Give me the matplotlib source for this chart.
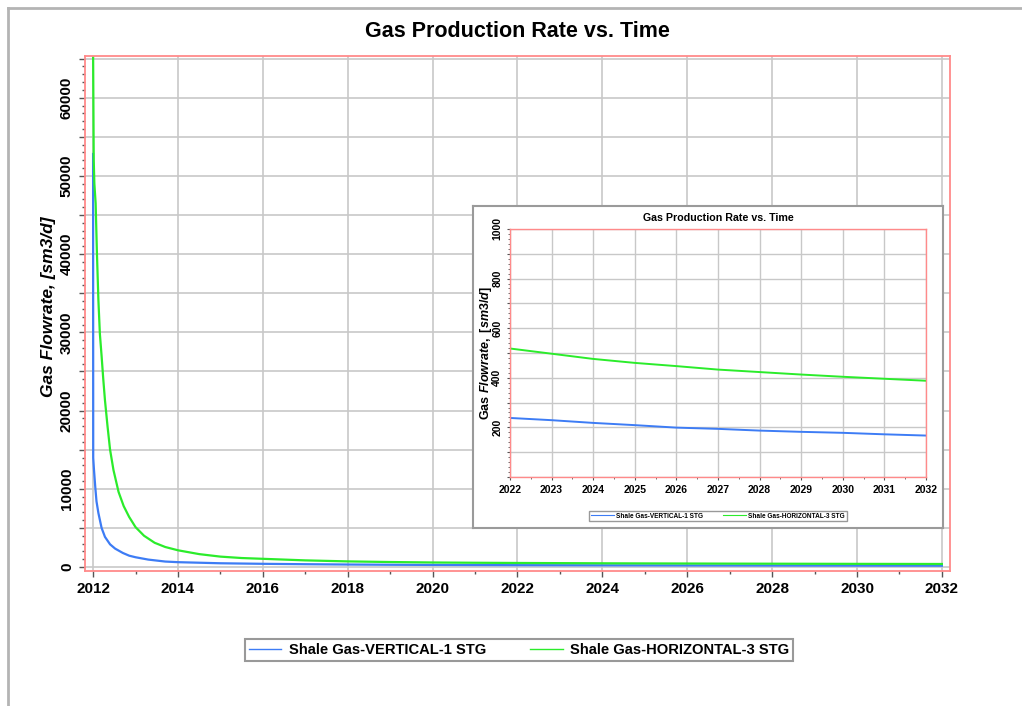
import numpy as np
import matplotlib
matplotlib.use("Agg")
import matplotlib.pyplot as plt
from matplotlib.ticker import MultipleLocator, FuncFormatter
from matplotlib.lines import Line2D

plt.rcParams['font.family'] = ['Liberation Sans', 'DejaVu Sans']
plt.rcParams['mathtext.fontset'] = 'custom'
plt.rcParams['mathtext.it'] = 'Liberation Sans:italic:bold'
plt.rcParams['mathtext.rm'] = 'Liberation Sans:bold'

# Datos (años decimales, sm3/d)
years_vert = [2012.0, 2012.003, 2012.02, 2012.05, 2012.08, 2012.125, 2012.2, 2012.28,
              2012.4, 2012.52, 2012.7, 2012.85, 2013.0, 2013.3, 2013.7, 2014.0,
              2015.0, 2016.0, 2017.0, 2018.0, 2019.0, 2020.0, 2021.0, 2022.0,
              2023.0, 2024.0, 2025.0, 2026.0, 2027.0, 2028.0, 2029.0, 2030.0,
              2031.0, 2032.0]
rate_vert = [52800, 13950, 12500, 10300, 8400, 6900, 5000, 3850,
             2900, 2350, 1800, 1450, 1250, 950, 700, 620,
             480, 410, 360, 320, 290, 268, 252, 238,
             229, 218, 209, 199, 194, 187, 182, 178,
             172, 167]

years_horiz = [2012.0, 2012.015, 2012.03, 2012.06, 2012.09, 2012.125, 2012.16, 2012.2,
               2012.24, 2012.28, 2012.34, 2012.4, 2012.48, 2012.6, 2012.72, 2012.85,
               2013.0, 2013.2, 2013.45, 2013.7, 2014.0, 2014.5, 2015.0, 2015.5,
               2016.0, 2017.0, 2018.0, 2019.0, 2020.0, 2021.0, 2022.0, 2023.0,
               2024.0, 2025.0, 2026.0, 2027.0, 2028.0, 2029.0, 2030.0, 2031.0,
               2032.0]
rate_horiz = [66000, 52000, 49000, 46500, 40200, 34100, 29800, 27000,
              24000, 21300, 18000, 15000, 12400, 9600, 7800, 6400,
              5100, 4000, 3100, 2560, 2140, 1650, 1330, 1150,
              1050, 850, 720, 640, 580, 545, 518, 497,
              476, 460, 447, 433, 423, 413, 404, 396,
              388]

labels = ['Shale Gas-VERTICAL-1 STG', 'Shale Gas-HORIZONTAL-3 STG']
c_vert = '#3d7cf5'
c_horiz = '#2bec2b'
c_frame = '#ff8a8a'
c_grid = '#c8c8c8'

fig = plt.figure(figsize=(10.22, 7.06), dpi=100)

# borde exterior gris (izquierda y arriba)
fig.add_artist(Line2D([0.0078, 0.0078], [0, 0.9887], color='#b4b4b4', lw=2))
fig.add_artist(Line2D([0.0078, 1], [0.9887, 0.9887], color='#b4b4b4', lw=2))

# Gráfico principal
ax = fig.add_axes([0.0832, 0.1912, 0.8463, 0.7295])
ax.plot(years_vert, rate_vert, color=c_vert, lw=1.6, label=labels[0])
ax.plot(years_horiz, rate_horiz, color=c_horiz, lw=1.6, label=labels[1])
ax.set_xlim(2011.81, 2032.19)
ax.set_ylim(-510, 65330)
ax.xaxis.set_major_locator(MultipleLocator(2))
ax.xaxis.set_minor_locator(MultipleLocator(1))
ax.yaxis.set_major_locator(MultipleLocator(5000))
ax.yaxis.set_minor_locator(MultipleLocator(1000))
ax.yaxis.set_major_formatter(FuncFormatter(lambda v, p: f'{int(v)}' if v % 10000 == 0 else ''))
ax.xaxis.set_major_formatter(FuncFormatter(lambda v, p: f'{int(v)}'))
ax.grid(True, which='major', color=c_grid, lw=1.2)
ax.set_axisbelow(True)
for s in ax.spines.values():
    s.set_color(c_frame)
    s.set_linewidth(1.3)
ax.tick_params(axis='both', which='major', length=4, width=1, color='#555555', labelsize=11, pad=4)
ax.tick_params(axis='both', which='minor', length=2, width=1, color='#555555')
for t in ax.get_xticklabels():
    t.set_fontweight('bold')
for t in ax.get_yticklabels():
    t.set_fontweight('bold')
    t.set_rotation(90)
    t.set_va('center')

fig.text(0.506, 0.9547, 'Gas Production Rate vs. Time', ha='center', va='center',
         fontsize=15.5, fontweight='bold')
fig.text(0.047, 0.565, 'Gas Flowrate, [sm3/d]', ha='center', va='center', rotation=90,
         fontsize=12.5, fontweight='bold', style='italic')

leg = fig.legend(loc='center', bbox_to_anchor=(0.5078, 0.0793), ncol=2,
                 prop={'weight': 'bold', 'size': 10.6}, frameon=True, fancybox=False,
                 edgecolor='#808080', handlelength=2.2, columnspacing=3.0,
                 borderpad=0.3, handletextpad=0.5)
leg.get_frame().set_linewidth(1.5)
for ln in leg.get_lines():
    ln.set_linewidth(1.0)

# Recuadro del gráfico insertado
box = fig.add_axes([0.4628, 0.2521, 0.4599, 0.4561])
box.set_xticks([])
box.set_yticks([])
for s in box.spines.values():
    s.set_color('#9a9a9a')
    s.set_linewidth(1.5)

ins = fig.add_axes([0.4990, 0.3244, 0.4070, 0.3513])
ins.plot(years_vert, rate_vert, color=c_vert, lw=1.4, label=labels[0])
ins.plot(years_horiz, rate_horiz, color=c_horiz, lw=1.4, label=labels[1])
ins.set_xlim(2022, 2032)
ins.set_ylim(0, 1000)
ins.xaxis.set_major_locator(MultipleLocator(1))
ins.xaxis.set_minor_locator(MultipleLocator(0.5))
ins.yaxis.set_major_locator(MultipleLocator(100))
ins.yaxis.set_minor_locator(MultipleLocator(20))
ins.yaxis.set_major_formatter(FuncFormatter(lambda v, p: f'{int(v)}' if v % 200 == 0 and v > 0 else ''))
ins.xaxis.set_major_formatter(FuncFormatter(lambda v, p: f'{int(v)}'))
ins.grid(True, which='major', color=c_grid, lw=1.0)
ins.set_axisbelow(True)
for s in ins.spines.values():
    s.set_color(c_frame)
    s.set_linewidth(1.0)
ins.tick_params(axis='both', which='major', length=2.5, width=0.8, color='#555555', labelsize=7.5, pad=3)
ins.tick_params(axis='both', which='minor', length=1.5, width=0.6, color='#555555')
for t in ins.get_xticklabels():
    t.set_fontweight('bold')
for t in ins.get_yticklabels():
    t.set_fontweight('bold')
    t.set_rotation(90)
    t.set_va('center')

fig.text(0.7025, 0.6912, 'Gas Production Rate vs. Time', ha='center', va='center',
         fontsize=7.7, fontweight='bold')
fig.text(0.4755, 0.5, r'Gas $\mathit{Flowrate,\ [sm3/d]}$', ha='center', va='center',
         rotation=90, fontsize=9, fontweight='bold')

leg2 = ins.legend(loc='center', bbox_to_anchor=(0.7025, 0.2691),
                  bbox_transform=fig.transFigure, ncol=2, prop={'weight': 'bold', 'size': 4.7},
                  frameon=True, fancybox=False, edgecolor='#808080', handlelength=3.5,
                  columnspacing=3.0, borderpad=0.3, handletextpad=0.4)
leg2.get_frame().set_linewidth(1.0)
for ln in leg2.get_lines():
    ln.set_linewidth(0.8)

fig.savefig('out.png', dpi=100)
